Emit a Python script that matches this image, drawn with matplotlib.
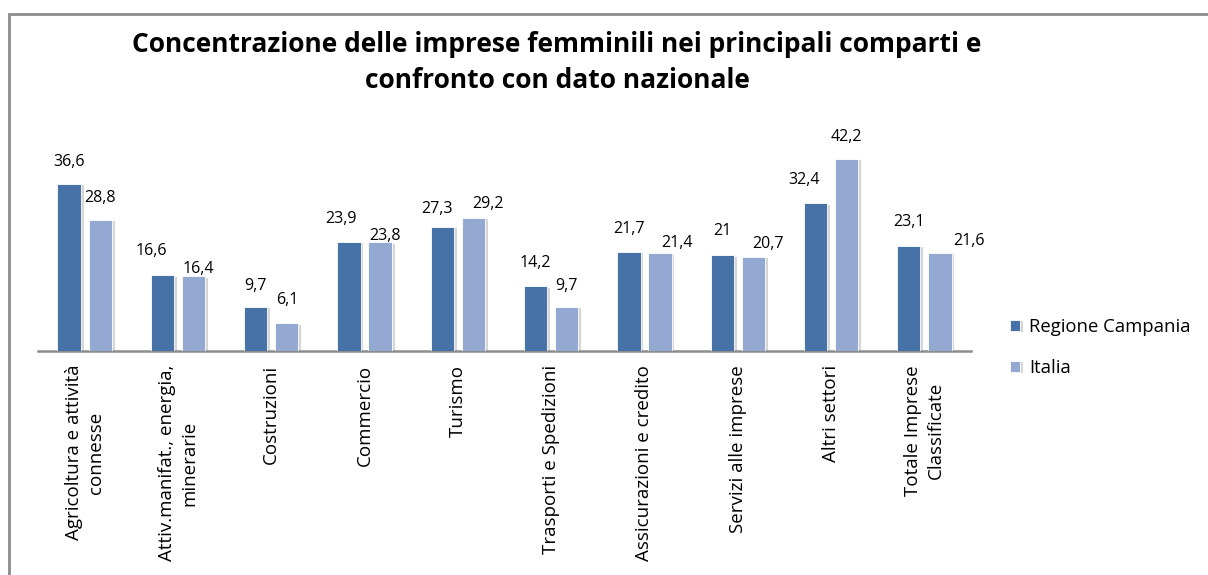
import numpy as np
import matplotlib.pyplot as plt
import matplotlib.patheffects as pe
from matplotlib.patches import Rectangle

plt.rcParams['font.family'] = ['Open Sans', 'DejaVu Sans']

categories = [
    "Agricoltura e attività\nconnesse",
    "Attiv.manifat., energia,\nminerarie",
    "Costruzioni",
    "Commercio",
    "Turismo",
    "Trasporti e Spedizioni",
    "Assicurazioni e credito",
    "Servizi alle imprese",
    "Altri settori",
    "Totale Imprese\nClassificate",
]
campania = [36.6, 16.6, 9.7, 23.9, 27.3, 14.2, 21.7, 21.0, 32.4, 23.1]
italia = [28.8, 16.4, 6.1, 23.8, 29.2, 9.7, 21.4, 20.7, 42.2, 21.6]
series_names = ["Regione Campania", "Italia"]
colors = ["#4672A7", "#94A9D1"]

# label placement (pixel offsets from bar top centre), as laid out in the original
campania_lbl = [(0, 22), (-11, 24), (0, 21), (-8, 23), (-5, 18),
                (0, 23), (0, 23), (0, 24), (-11, 23), (0, 24)]
italia_lbl = [(0, 22), (5, 7), (0, 23), (5, 6), (15, 14),
              (0, 21), (17, 10), (15, 13), (0, 22), (29, 12)]


def fmt(v):
    s = ("%.1f" % v).rstrip("0").rstrip(".")
    return s.replace(".", ",")


W, H = 1208, 575
fig = plt.figure(figsize=(W / 100, H / 100), dpi=100)
ax = fig.add_axes([38 / W, 1 - 351 / H, (971 - 38) / W, (351 - 123) / H])

x = np.arange(len(categories))
w = 0.25
shadow = [pe.SimplePatchShadow(offset=(2, -1), shadow_rgbFace="#888888", alpha=0.35), pe.Normal()]

for vals, off, col, name, lbl in [(campania, -0.167, colors[0], series_names[0], campania_lbl),
                                  (italia, 0.167, colors[1], series_names[1], italia_lbl)]:
    bars = ax.bar(x + off, vals, w, color=col, edgecolor="white", linewidth=0.6,
                  label=name, zorder=3)
    for b in bars:
        b.set_path_effects(shadow)
    for xi, v, (dx, dy) in zip(x + off, vals, lbl):
        ax.annotate(fmt(v), (xi, v), xytext=(dx, dy), textcoords="offset pixels",
                    ha="center", va="center", fontsize=11.5, color="black")

ax.set_xlim(-0.5, len(categories) - 0.5)
ax.set_ylim(0, 50)
ax.set_yticks([])
for s in ["top", "right", "left"]:
    ax.spines[s].set_visible(False)
ax.spines["bottom"].set_color("#8c8c8c")
ax.spines["bottom"].set_linewidth(1.8)
ax.set_xticks(x)
ax.set_xticklabels(categories, rotation=90, ha="center", va="top",
                   multialignment="center", fontsize=13.5, linespacing=1.3)
ax.tick_params(axis="x", length=0, pad=10)

leg = fig.legend(handles=ax.containers, labels=series_names, loc="upper left",
                 bbox_to_anchor=(993 / W, 1 - 301 / H), frameon=False,
                 fontsize=13.3, handlelength=0.55, handleheight=0.55,
                 handletextpad=0.5, labelspacing=1.25)

fig.text(557 / W, 1 - 45 / H, "Concentrazione delle imprese femminili nei principali comparti e",
         ha="center", va="center", fontsize=19, fontweight="bold")
fig.text(557 / W, 1 - 81 / H, "confronto con dato nazionale",
         ha="center", va="center", fontsize=19, fontweight="bold")

fig.patches.append(Rectangle((9 / W, -0.1), 1.2, 1.1 - 14 / H, transform=fig.transFigure,
                             fill=False, edgecolor="#8c8c8c", linewidth=2))

fig.savefig("out.png", dpi=100)
